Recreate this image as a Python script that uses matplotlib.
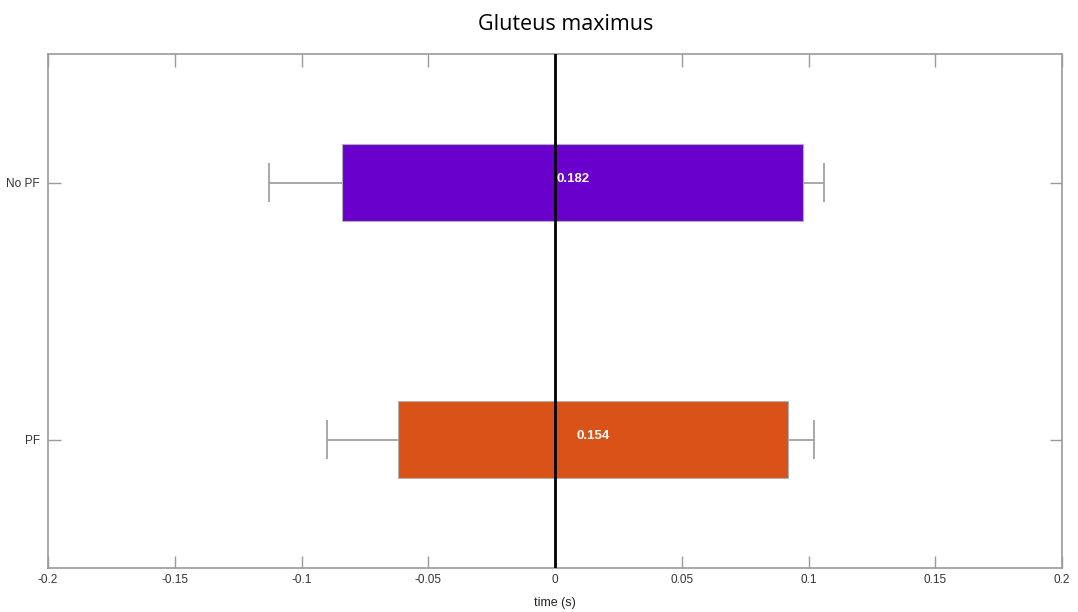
import numpy as np
import matplotlib
matplotlib.use("Agg")
import matplotlib.pyplot as plt

# muscle activation timing relative to event (s)
groups = ['PF', 'No PF']
onset = [-0.062, -0.084]
duration = [0.154, 0.182]
onset_sd = [0.028, 0.029]
offset_sd = [0.010, 0.008]
bar_colors = ['#D95319', '#6A00CC']

plt.rcParams['font.family'] = ['Liberation Sans', 'DejaVu Sans']

fig = plt.figure(figsize=(10.78, 6.12), dpi=100)
ax = fig.add_axes([48 / 1078, 1 - 568 / 612, 1014 / 1078, 514 / 612])

y = np.arange(1, len(groups) + 1)
onset = np.array(onset)
duration = np.array(duration)
offset = onset + duration
lo = onset - np.array(onset_sd)
hi = offset + np.array(offset_sd)

ax.barh(y, duration, left=onset, height=0.30, color=bar_colors,
        edgecolor='#b0b0b0', linewidth=0.8, zorder=2)

# one-sided whiskers: onset spread to the left, offset spread to the right
grey = '#9a9a9a'
cap = 0.075
ax.hlines(y, lo, onset, color=grey, linewidth=1.2, zorder=1)
ax.hlines(y, offset, hi, color=grey, linewidth=1.2, zorder=1)
ax.vlines(lo, y - cap, y + cap, color=grey, linewidth=1.2, zorder=1)
ax.vlines(hi, y - cap, y + cap, color=grey, linewidth=1.2, zorder=1)

for yi, on, d in zip(y, onset, duration):
    ax.text(on + d / 2, yi + 0.015, f'{d:.3f}', color='white', fontweight='bold',
            fontsize=9.5, ha='center', va='center', zorder=4)

ax.axvline(0, color='black', linewidth=2, zorder=3)

ax.set_xlim(-0.2, 0.2)
ax.set_ylim(0.5, 2.5)
ticks = np.round(np.arange(-0.2, 0.201, 0.05), 2)
ax.set_xticks(ticks)
ax.set_xticklabels([f'{t:g}' if t != 0 else '0' for t in ticks])
ax.set_yticks(y)
ax.set_yticklabels(groups)

ax.tick_params(direction='in', top=True, right=True, length=9, width=1,
               color=grey, labelcolor='#333333', labelsize=8.5)
ax.tick_params(axis='x', pad=4)
ax.tick_params(axis='y', pad=6)
for s in ax.spines.values():
    s.set_color(grey)
    s.set_linewidth(1.2)

ax.set_xlabel('time (s)', fontsize=9, color='#222222', labelpad=8)
fig.suptitle('Gluteus maximus', x=566 / 1078, y=1 - 24 / 612, va='center',
             fontsize=15.5, family='Open Sans')

fig.savefig('out.png', dpi=100)
